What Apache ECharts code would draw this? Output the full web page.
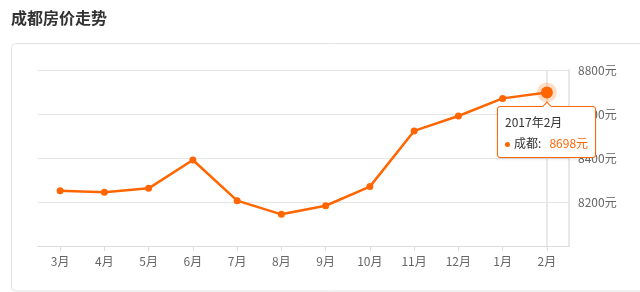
<!DOCTYPE html>
<html>
<head>
<meta charset="utf-8">
<script src="https://cdn.jsdelivr.net/npm/echarts@6/dist/echarts.min.js"></script>
<style>
html,body{margin:0;padding:0;background:#fff;}
#chart{width:640px;height:292px;}
</style>
</head>
<body>
<div id="chart"></div>
<script>
var titleText = '成都房价走势';
var seriesName = '成都';
var months = ['3月','4月','5月','6月','7月','8月','9月','10月','11月','12月','1月','2月'];
var tipLabels = ['2016年3月','2016年4月','2016年5月','2016年6月','2016年7月','2016年8月','2016年9月','2016年10月','2016年11月','2016年12月','2017年1月','2017年2月'];
var prices = [8251, 8244, 8262, 8391, 8206, 8144, 8183, 8270, 8523, 8591, 8671, 8698];
var yMin = 8000, yMax = 8800, yStep = 200;
var unit = '元';
var focusIndex = 11;

var FONT = '"Noto Sans CJK SC", "Noto Sans", sans-serif';
var ORANGE = '#ff6600';

var chart = echarts.init(document.getElementById('chart'), null, {renderer: 'canvas'});

var seriesData = prices.map(function (v, i) {
  if (i === focusIndex) {
    return {
      value: v,
      symbolSize: 12,
      itemStyle: {color: ORANGE, borderColor: 'rgba(255,102,0,0.22)', borderWidth: 8}
    };
  }
  return v;
});

chart.setOption({
  animation: false,
  textStyle: {fontFamily: FONT},
  title: {
    text: titleText,
    left: 11, top: 10, padding: 0,
    textStyle: {fontSize: 16, fontWeight: 'bold', color: '#333', fontFamily: FONT}
  },
  graphic: [{
    type: 'rect',
    silent: true,
    z: -1,
    shape: {x: 11.5, y: 43.5, width: 660, height: 247.5, r: 4},
    style: {fill: 'none', stroke: '#e3e3e3', lineWidth: 1}
  }],
  grid: {left: 38, right: 71, top: 70, bottom: 46},
  tooltip: {
    trigger: 'item',
    alwaysShowContent: true,
    position: 'bottom',
    backgroundColor: '#fff',
    borderColor: ORANGE,
    borderWidth: 1,
    padding: [4, 7],
    extraCssText: 'box-shadow:0 1px 3px rgba(0,0,0,0.12);border-radius:3px;margin-top:-6px;',
    textStyle: {fontFamily: FONT, fontSize: 12, color: '#333'},
    formatter: function (p) {
      return '<div style="font-family:' + FONT.replace(/"/g, "'") + ';font-size:12px;line-height:21px;color:#333;">' +
        tipLabels[p.dataIndex] + '<br/>' +
        '<span style="display:inline-block;width:5px;height:5px;border-radius:50%;background:' + ORANGE + ';margin-right:4px;vertical-align:middle;"></span>' +
        p.seriesName + ':&nbsp;&nbsp;&nbsp;<span style="color:' + ORANGE + ';">' + p.value + unit + '</span></div>';
    }
  },
  xAxis: {
    type: 'category',
    data: months,
    boundaryGap: true,
    axisLine: {show: true, lineStyle: {color: '#dcdcdc', width: 1}},
    axisTick: {show: true, alignWithLabel: true, length: 5, lineStyle: {color: '#dcdcdc'}},
    axisLabel: {color: '#666', fontSize: 12, margin: 9, fontFamily: FONT},
    splitLine: {show: false}
  },
  yAxis: {
    type: 'value',
    position: 'right',
    min: yMin, max: yMax, interval: yStep,
    axisLine: {show: true, lineStyle: {color: '#e0e0e0', width: 1.5}},
    axisTick: {show: false},
    axisLabel: {
      color: '#666', fontSize: 12, margin: 9, fontFamily: FONT,
      showMinLabel: false,
      formatter: function (v) { return v + unit; }
    },
    splitLine: {show: true, lineStyle: {color: '#e6e6e6', width: 1}}
  },
  series: [{
    name: seriesName,
    type: 'line',
    data: seriesData,
    symbol: 'circle',
    symbolSize: 7,
    showAllSymbol: true,
    lineStyle: {color: ORANGE, width: 2.5},
    itemStyle: {color: ORANGE},
    emphasis: {scale: false, lineStyle: {width: 2.5}},
    markLine: {
      silent: true,
      symbol: 'none',
      label: {show: false},
      lineStyle: {color: '#e3e3e3', width: 1.5, type: 'solid'},
      data: [{xAxis: months[focusIndex]}],
      z: 1
    },
    z: 3
  }]
});

chart.dispatchAction({type: 'showTip', seriesIndex: 0, dataIndex: focusIndex});
</script>
</body>
</html>
